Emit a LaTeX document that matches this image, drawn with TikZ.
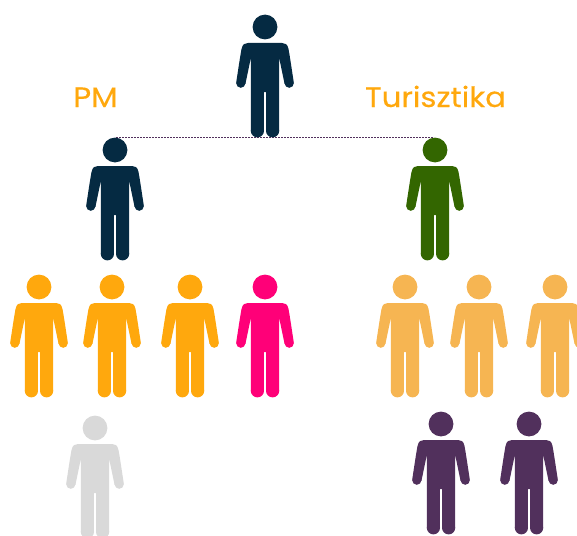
\documentclass[tikz,border=0pt]{standalone}
\usepackage{fontspec}
\newfontfamily\labelfont[FakeStretch=1.1, FakeBold=0.25]{Poppins}
\usepackage{tikz}
\usetikzlibrary{positioning, calc}

\definecolor{navy}{HTML}{052A42}
\definecolor{leaf}{HTML}{336600}
\definecolor{amber}{HTML}{FFA80D}
\definecolor{sand}{HTML}{F6B552}
\definecolor{rose}{HTML}{FF0078}
\definecolor{ash}{HTML}{D9D9D9}
\definecolor{plum}{HTML}{51305C}

\tikzset{
  label text/.style={font=\labelfont\fontsize{28}{28}\selectfont, text=amber, inner sep=0pt, anchor=base},
  link/.style={plum, line width=1.5pt, dash pattern=on 1.5pt off 1.5pt},
  person/.pic={
    % head and hands
    \fill (0,0) circle (12.4);
    \fill (-24.2,56.2) circle (4.6);
    \fill (24.2,56.2) circle (4.6);
    % legs
    \fill (-7.6,103.8) circle (6.6);
    \fill (7.6,103.8) circle (6.6);
    % body and arms
    \fill (-1.2,65) -- (-1.2,104) -- (-14.2,104) -- (-14.2,31)
      -- (-19.6,57) -- (-28.8,55.5) .. controls (-27,44) and (-25,30) .. (-23.5,22)
      .. controls (-22.5,17) and (-20,16) .. (-17,16) -- (17,16)
      .. controls (20,16) and (22.5,17) .. (23.5,22)
      .. controls (25,30) and (27,44) .. (28.8,55.5) -- (19.6,57) -- (14.2,31)
      -- (14.2,104) -- (1.2,104) -- (1.2,65) -- cycle;
  }
}

\begin{document}
\begin{tikzpicture}[x=1pt, y=-1pt]
\useasboundingbox (0,0) rectangle (577,535);
\clip (0,0) rectangle (577,535);

% Dotted link under the top figure
\coordinate (linkL) at (116,137.5);
\coordinate (linkR) at (433,137.5);
\draw[link] (linkL) -- (linkR);

% Top figure and the two heads
\pic[navy] (boss) at (265,27) {person};
\pic[navy] (pmlead) at (115,150) {person};
\pic[leaf] (turlead) at (435,150) {person};

% Group labels
\node[label text] (pm) at (95.5,107) {PM};
\node[label text] (tur) at (435.5,107) {Turisztika};

% PM row
\foreach \px/\pc in {39/amber, 112/amber, 190/amber, 265/rose}
  \pic[\pc] at (\px,287) {person};

% Turisztika row
\foreach \px in {405, 479, 555}
  \pic[sand] at (\px,287) {person};

% Bottom row
\pic[ash] (last) at (95,428) {person};
\foreach \px in {441, 529}
  \pic[plum] at (\px,424) {person};
\end{tikzpicture}
\end{document}
